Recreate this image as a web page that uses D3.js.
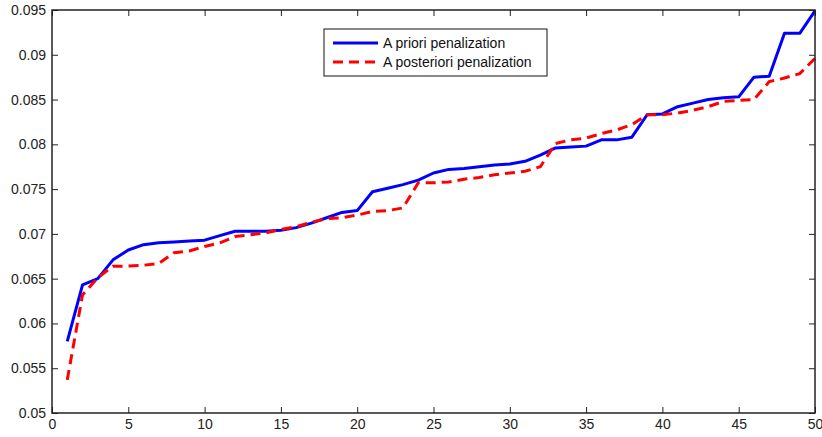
<!DOCTYPE html>
<html>
<head>
<meta charset="utf-8">
<script src="https://cdn.jsdelivr.net/npm/d3@7"></script>
<style>
  body { margin: 0; background: #fff; }
  svg { display: block; }
  text { font-family: "Liberation Sans", Arial, Helvetica, sans-serif; }
</style>
</head>
<body>
<div id="container"></div>
<script>
const $ = (...args) => document.querySelector(...args);

const width = 822, height = 437;
const margin = { top: 10, right: 7, bottom: 24, left: 52 };

const runs = d3.range(1, 51);
const aPriori = [
  0.0580, 0.0643, 0.0650, 0.0671, 0.0682, 0.0688, 0.0690, 0.0691, 0.0692, 0.0693,
  0.0698, 0.0703, 0.0703, 0.0703, 0.0704, 0.0707, 0.0712, 0.0718, 0.0724, 0.0726,
  0.0747, 0.0751, 0.0755, 0.0760, 0.0768, 0.0772, 0.0773, 0.0775, 0.0777, 0.0778,
  0.0781, 0.0788, 0.0796, 0.0797, 0.0798, 0.0805, 0.0805, 0.0808, 0.0833, 0.0834,
  0.0842, 0.0846, 0.0850, 0.0852, 0.0853, 0.0875, 0.0876, 0.0924, 0.0924, 0.0949
];
const aPosteriori = [
  0.0537, 0.0632, 0.0651, 0.0664, 0.0664, 0.0665, 0.0667, 0.0679, 0.0681, 0.0686,
  0.0690, 0.0697, 0.0699, 0.0701, 0.0705, 0.0708, 0.0713, 0.0717, 0.0718, 0.0721,
  0.0725, 0.0726, 0.0729, 0.0757, 0.0757, 0.0758, 0.0761, 0.0763, 0.0766, 0.0768,
  0.0770, 0.0775, 0.0801, 0.0805, 0.0807, 0.0812, 0.0816, 0.0822, 0.0833, 0.0833,
  0.0835, 0.0838, 0.0842, 0.0848, 0.0849, 0.0850, 0.0870, 0.0874, 0.0879, 0.0896
];
const xTicks = d3.range(0, 51, 5);
const yTicks = [0.05, 0.055, 0.06, 0.065, 0.07, 0.075, 0.08, 0.085, 0.09, 0.095];
const seriesNames = ['A priori penalization', 'A posteriori penalization'];

const svg = d3.select($('#container'))
  .append('svg')
  .attr('width', width)
  .attr('height', height);

const x = d3.scaleLinear().domain([0, 50]).range([margin.left, width - margin.right]);
const y = d3.scaleLinear().domain([0.05, 0.095]).range([height - margin.bottom, margin.top]);

const fmt = d => String(+d.toFixed(3));

// ticks point inwards on all four sides, like matlab
const styleAxis = g => {
  g.select('.domain').remove();
  g.selectAll('line').attr('stroke', '#222');
  g.selectAll('text').attr('font-size', 14).attr('fill', '#222');
};

svg.append('g')
  .attr('transform', `translate(0,${y.range()[0]})`)
  .call(d3.axisBottom(x).tickValues(xTicks).tickSize(-6).tickPadding(6).tickFormat(d3.format('d')))
  .call(styleAxis);
svg.append('g')
  .attr('transform', `translate(0,${margin.top})`)
  .call(d3.axisTop(x).tickValues(xTicks).tickSize(-6).tickFormat(''))
  .call(styleAxis);
svg.append('g')
  .attr('transform', `translate(${margin.left},0)`)
  .call(d3.axisLeft(y).tickValues(yTicks).tickSize(-6).tickPadding(6).tickFormat(fmt))
  .call(styleAxis);
svg.append('g')
  .attr('transform', `translate(${width - margin.right},0)`)
  .call(d3.axisRight(y).tickValues(yTicks).tickSize(-6).tickFormat(''))
  .call(styleAxis);

const line = d3.line().x((d, i) => x(runs[i])).y(d => y(d));

svg.append('path')
  .datum(aPriori)
  .attr('d', line)
  .attr('fill', 'none')
  .attr('stroke', '#0000ff')
  .attr('stroke-width', 3)
  .attr('stroke-linejoin', 'round');

svg.append('path')
  .datum(aPosteriori)
  .attr('d', line)
  .attr('fill', 'none')
  .attr('stroke', '#ff0000')
  .attr('stroke-width', 3)
  .attr('stroke-dasharray', '10,6');

// box around the plot
svg.append('rect')
  .attr('x', margin.left)
  .attr('y', margin.top)
  .attr('width', x.range()[1] - margin.left)
  .attr('height', y.range()[0] - margin.top)
  .attr('fill', 'none')
  .attr('stroke', '#222')
  .attr('stroke-width', 1.5);

// legend
const lg = svg.append('g').attr('transform', 'translate(324,29)');
lg.append('rect')
  .attr('width', 223).attr('height', 47)
  .attr('fill', '#fff').attr('stroke', '#111').attr('stroke-width', 1);
const styles = [
  { stroke: '#0000ff', dash: null },
  { stroke: '#ff0000', dash: '10,6' }
];
seriesNames.forEach((name, i) => {
  const cy = 14 + i * 19;
  lg.append('line')
    .attr('x1', 9).attr('x2', 54).attr('y1', cy).attr('y2', cy)
    .attr('stroke', styles[i].stroke).attr('stroke-width', 3)
    .attr('stroke-dasharray', styles[i].dash);
  lg.append('text')
    .attr('x', 59).attr('y', cy).attr('dy', '0.35em')
    .attr('font-size', 14).attr('fill', '#111')
    .text(name);
});
</script>
</body>
</html>
